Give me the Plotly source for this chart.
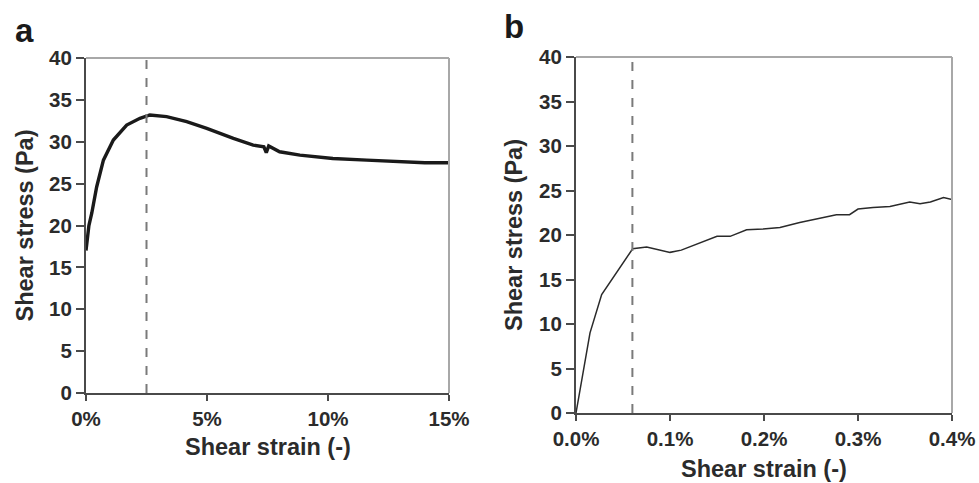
import plotly.graph_objects as go

# ---- Data ----
# Panel a: shear strain (%) vs shear stress (Pa)
strain_a = [0.0, 0.05, 0.12, 0.24, 0.44, 0.72, 1.13, 1.68, 2.23, 2.64, 3.33, 4.16, 4.99, 6.09, 6.91,
            7.35, 7.45, 7.55, 8.0, 8.84, 10.2, 11.6, 12.98, 14.0, 15.0]
stress_a = [17.0, 18.5, 20.0, 21.5, 24.6, 27.8, 30.2, 32.0, 32.8, 33.2, 33.0, 32.4, 31.6, 30.4, 29.6,
            29.4, 28.7, 29.5, 28.8, 28.4, 28.0, 27.8, 27.6, 27.5, 27.5]
yield_strain_a = 2.5

# Panel b
strain_b = [0.0, 0.0149, 0.0273, 0.0603, 0.0752, 0.100, 0.112, 0.15, 0.164, 0.1815, 0.199, 0.217,
            0.238, 0.256, 0.270, 0.277, 0.291, 0.300, 0.316, 0.334, 0.355, 0.366, 0.377, 0.391, 0.400]
stress_b = [0.0, 9.0, 13.3, 18.46, 18.65, 18.05, 18.3, 19.85, 19.85, 20.58, 20.67, 20.85,
            21.4, 21.8, 22.17, 22.28, 22.28, 22.92, 23.1, 23.2, 23.7, 23.5, 23.7, 24.2, 24.0]
yield_strain_b = 0.06

y_range = [0, 40]
y_ticks = [0, 5, 10, 15, 20, 25, 30, 35, 40]
x_ticks_a = [0, 5, 10, 15]
x_tick_labels_a = ["0%", "5%", "10%", "15%"]
x_ticks_b = [0.0, 0.1, 0.2, 0.3, 0.4]
x_tick_labels_b = ["0.0%", "0.1%", "0.2%", "0.3%", "0.4%"]
x_title = "Shear strain (-)"
y_title = "Shear stress (Pa)"

# ---- Styling ----
W, H = 979, 483
FONT = "Liberation Sans, Arial, sans-serif"
TXT = "#2b2b2b"
AX = "#4a4a4a"

def px_x(p):
    return p / W

def px_y(p):
    return 1 - p / H

fig = go.Figure()

fig.add_trace(go.Scatter(x=strain_a, y=stress_a, mode="lines",
                         line=dict(color="#1a1a1a", width=3.4), xaxis="x", yaxis="y",
                         showlegend=False, hoverinfo="skip"))
fig.add_trace(go.Scatter(x=[yield_strain_a, yield_strain_a], y=y_range, mode="lines",
                         line=dict(color="#7a7a7a", width=2, dash="dash"), xaxis="x", yaxis="y",
                         showlegend=False, hoverinfo="skip"))
fig.add_trace(go.Scatter(x=strain_b, y=stress_b, mode="lines",
                         line=dict(color="#2a2a2a", width=1.5), xaxis="x2", yaxis="y2",
                         showlegend=False, hoverinfo="skip"))
fig.add_trace(go.Scatter(x=[yield_strain_b, yield_strain_b], y=y_range, mode="lines",
                         line=dict(color="#7a7a7a", width=2, dash="dash"), xaxis="x2", yaxis="y2",
                         showlegend=False, hoverinfo="skip"))

tickfont = dict(family=FONT, size=20.5, color=TXT, weight="bold")
titlefont = dict(family=FONT, size=23.5, color=TXT, weight="bold")

common_x = dict(showline=True, linecolor=AX, linewidth=2, ticks="outside", ticklen=6, tickwidth=2,
                tickcolor=AX, showgrid=False, zeroline=False, tickfont=tickfont,
                tickmode="array", automargin=False)
common_y = dict(showline=True, linecolor=AX, linewidth=2, ticks="outside", ticklen=8, tickwidth=2,
                tickcolor=AX, showgrid=False, zeroline=False, tickfont=tickfont, range=y_range,
                tickmode="array", tickvals=y_ticks, automargin=False)

fig.update_layout(
    width=W, height=H, margin=dict(l=0, r=0, t=0, b=0),
    paper_bgcolor="white", plot_bgcolor="white",
    xaxis=dict(domain=[px_x(86), px_x(449)], anchor="y", range=[0, 15], tickvals=x_ticks_a,
               ticktext=x_tick_labels_a, **common_x),
    yaxis=dict(domain=[px_y(393), px_y(58)], anchor="x", **common_y),
    xaxis2=dict(domain=[px_x(576), px_x(952)], anchor="y2", range=[0, 0.4], tickvals=x_ticks_b,
                ticktext=x_tick_labels_b, **common_x),
    yaxis2=dict(domain=[px_y(413), px_y(57)], anchor="x2", **common_y),
)

# lighter top/right frame lines
for xr, yr in (("x", "y"), ("x2", "y2")):
    fig.add_shape(type="line", xref=f"{xr} domain", yref=f"{yr} domain", x0=0, x1=1, y0=1, y1=1,
                  line=dict(color="#a8a8a8", width=2))
    fig.add_shape(type="line", xref=f"{xr} domain", yref=f"{yr} domain", x0=1, x1=1, y0=0, y1=1,
                  line=dict(color="#a8a8a8", width=2))

# axis titles
def title_ann(text, cx, cy, angle=0):
    fig.add_annotation(text=text, x=px_x(cx), y=px_y(cy), xref="paper", yref="paper",
                       xanchor="center", yanchor="middle", showarrow=False, textangle=angle,
                       font=titlefont)

title_ann(x_title, 267.5, 447)
title_ann(y_title, 24, 225.5, -90)
title_ann(x_title, 764, 469)
title_ann(y_title, 514, 235, -90)

# panel letters
fig.add_annotation(text="a", x=px_x(13), y=px_y(10), xref="paper", yref="paper",
                   xanchor="left", yanchor="top", showarrow=False,
                   font=dict(family=FONT, size=33, color="#1a1a1a", weight="bold"))
fig.add_annotation(text="b", x=px_x(502), y=px_y(6), xref="paper", yref="paper",
                   xanchor="left", yanchor="top", showarrow=False,
                   font=dict(family=FONT, size=33, color="#1a1a1a", weight="bold"))

fig.write_html("out.html", config={"displayModeBar": False},
               post_script="document.body.style.margin='0';document.body.style.overflow='hidden';")
